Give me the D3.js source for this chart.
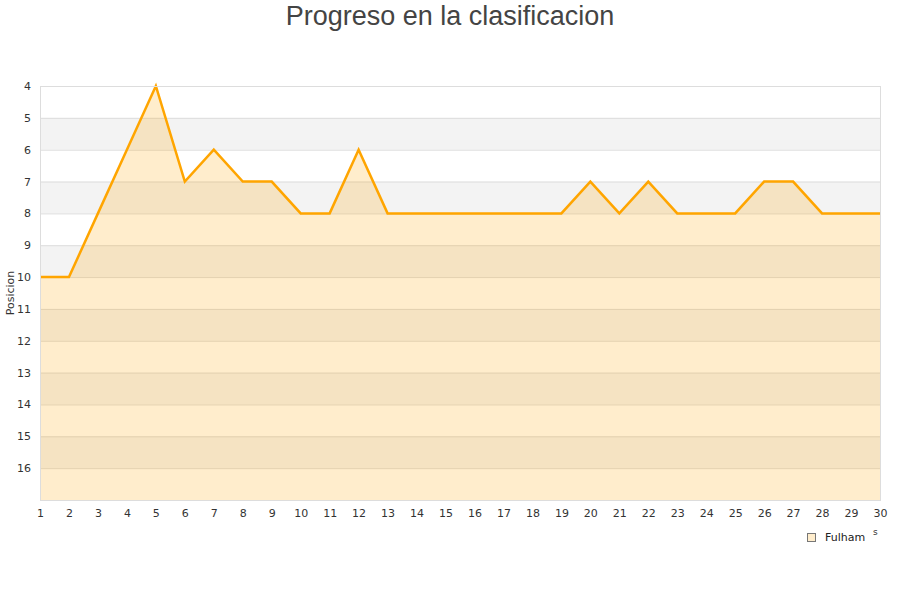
<!DOCTYPE html>
<html><head><meta charset="utf-8">
<script src="https://cdn.jsdelivr.net/npm/d3@7"></script>
<style>body{margin:0;background:#fff}</style>
</head><body>
<svg id="c" width="900" height="600"></svg>
<script>
const jornadas = d3.range(1, 31);
const posiciones = [10,10,8,6,4,7,6,7,7,8,8,6,8,8,8,8,8,8,8,7,8,7,8,8,8,7,7,8,8,8];
const yTicks = [4,5,6,7,8,9,10,11,12,13,14,15,16];
const serie = "Fulham";
const titulo = "Progreso en la clasificacion";

const svg = d3.select("#c");
const m = {l:40, r:20, t:86, b:100};
const W = 900, H = 600;
const x = d3.scaleLinear().domain([1,30]).range([m.l, W-m.r]);
const y = d3.scaleLinear().domain([4,17]).range([m.t, H-m.b]);

svg.append("text").attr("x",450).attr("y",25).attr("text-anchor","middle")
  .attr("font-family","Liberation Sans, Arial, sans-serif").attr("font-size",27)
  .attr("fill","#444").text(titulo);

// bands
const bands = d3.range(5,17,2);
svg.selectAll("rect.band").data(bands).enter().append("rect")
  .attr("x",x(1)).attr("width",x(30)-x(1))
  .attr("y",d=>y(d)).attr("height",d=>y(d+1)-y(d)).attr("fill","#f3f3f3");

// grid
svg.selectAll("line.grid").data(yTicks).enter().append("line")
  .attr("x1",x(1)).attr("x2",x(30)).attr("y1",d=>y(d)+0.5).attr("y2",d=>y(d)+0.5)
  .attr("stroke","#dddddd");

const pts = jornadas.map((j,i)=>[j,posiciones[i]]);
svg.append("path").datum(pts)
  .attr("d", d3.area().x(d=>x(d[0])).y0(y(17)).y1(d=>y(d[1])))
  .attr("fill","rgba(255,165,0,0.2)");
svg.append("path").datum(pts)
  .attr("d", d3.line().x(d=>x(d[0])).y(d=>y(d[1])))
  .attr("fill","none").attr("stroke","#ffa500").attr("stroke-width",2.5);

// frame
svg.append("rect").attr("x",x(1)+0.5).attr("y",y(4)+0.5)
  .attr("width",x(30)-x(1)).attr("height",y(17)-y(4))
  .attr("fill","none").attr("stroke","#dddddd");

const font = "DejaVu Sans, sans-serif";
const yAxis = d3.axisLeft(y).tickValues(yTicks).tickSize(0).tickPadding(9);
svg.append("g").attr("transform",`translate(${x(1)},0)`).call(yAxis)
  .call(g=>g.select(".domain").remove())
  .selectAll("text").attr("font-family",font).attr("font-size",11).attr("fill","#333");

const xAxis = d3.axisBottom(x).tickValues(jornadas).tickFormat(d3.format("d")).tickSize(0).tickPadding(9);
svg.append("g").attr("transform",`translate(0,${y(17)})`).call(xAxis)
  .call(g=>g.select(".domain").remove())
  .selectAll("text").attr("font-family",font).attr("font-size",11).attr("fill","#333");

svg.append("text").attr("transform","translate(14,293) rotate(-90)")
  .attr("text-anchor","middle").attr("font-family",font).attr("font-size",11)
  .attr("fill","#333").text("Posicion");

svg.append("text").attr("x",873).attr("y",535).attr("font-family",font)
  .attr("font-size",9).attr("fill","#333").text("s");

// legend
svg.append("rect").attr("x",807.5).attr("y",533.5).attr("width",8).attr("height",8)
  .attr("fill","#ffedcc").attr("stroke","#777");
svg.append("text").attr("x",825).attr("y",541).attr("font-family",font)
  .attr("font-size",11).attr("fill","#222").text(serie);
</script>
</body></html>
